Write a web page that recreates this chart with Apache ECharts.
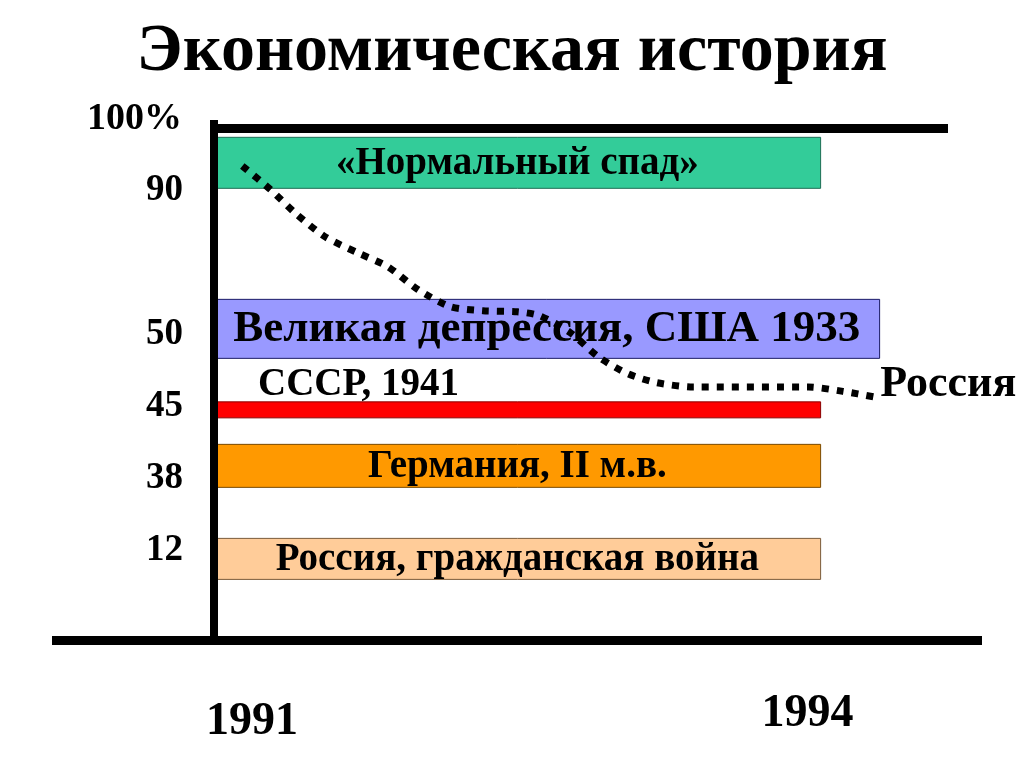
<!DOCTYPE html>
<html>
<head>
<meta charset="utf-8">
<script src="https://cdn.jsdelivr.net/npm/echarts@6/dist/echarts.min.js"></script>
<style>
  html, body { margin: 0; padding: 0; background: #ffffff; }
  #chart { width: 1024px; height: 768px; }
</style>
</head>
<body>
<div id="chart"></div>
<script>
// Output level after an economic collapse, % of the pre-crisis level.
const yearTicks = [1991, 1994];
const levelTicks = [12, 38, 45, 50, 90];
const levelTickLabels = ['12', '38', '45', '50', '90'];
const topLevelLabel = '100%';

const episodeNames = [
  '«Нормальный спад»',
  'Великая депрессия, США 1933',
  'СССР, 1941',
  'Германия, II м.в.',
  'Россия, гражданская война'
];
const episodeLevels = [90, 50, 45, 38, 12];

const russiaName = 'Россия';
const russiaYears = [1991.14, 1991.28, 1991.41, 1991.55, 1991.71, 1991.86, 1992.01, 1992.17,
  1992.33, 1992.50, 1992.61, 1992.76, 1992.90, 1993.05, 1993.19, 1993.37, 1993.94, 1994.11, 1994.27];
const russiaLevels = [92.9, 89.2, 82.3, 76.1, 71.7, 67.8, 61.4, 56.7,
  55.6, 55.3, 54.2, 49.9, 48.2, 47.0, 46.4, 46.1, 46.1, 45.8, 45.4];

// The vertical scale is schematic: every labelled level gets its own row,
// with a double gap between 50 and 90.
const ROW_KNOTS = [[0, 0], [12, 1], [38, 2], [45, 3], [50, 4], [90, 6], [100, 7]];
function toRow(v) {
  for (let k = 1; k < ROW_KNOTS.length; k++) {
    const a = ROW_KNOTS[k - 1], b = ROW_KNOTS[k];
    if (v <= b[0] || k === ROW_KNOTS.length - 1) {
      return a[1] + (v - a[0]) * (b[1] - a[1]) / (b[0] - a[0]);
    }
  }
}

const SERIF = '"Liberation Serif", "Times New Roman", serif';

// Box look for each episode: fill, outline, box height, shift from its level, extra width.
const episodeStyles = [
  { fill: '#33CC99', stroke: '#1d6e55', h: 51, dy: -24, extra: 0, size: 39, label: 'inside' },
  { fill: '#9999FF', stroke: '#1a1a66', h: 59, dy: -2, extra: 59, size: 45, label: 'inside' },
  { fill: '#FF0000', stroke: '#8a0000', h: 16, dy: 7, extra: 0, size: 39, label: 'above', dx: 44 },
  { fill: '#FF9900', stroke: '#7a4a00', h: 43, dy: -9, extra: 0, size: 39, label: 'inside' },
  { fill: '#FFCC99', stroke: '#7a5a3a', h: 41, dy: 12, extra: 0, size: 39, label: 'inside' }
];

const chart = echarts.init(document.getElementById('chart'));

function renderEpisode(params, api) {
  const i = api.value(3);
  const st = episodeStyles[i];
  const p0 = api.coord([api.value(0), api.value(2)]);
  const p1 = api.coord([api.value(1), api.value(2)]);
  const x0 = p0[0];
  const x1 = p1[0] + st.extra;
  const cy = p0[1] + st.dy;
  const top = cy - st.h / 2;
  const font = 'bold ' + st.size + 'px ' + SERIF;
  const text = st.label === 'inside'
    ? { type: 'text', z2: 5, style: { text: episodeNames[i], x: (x0 + x1) / 2, y: cy + 1,
        align: 'center', verticalAlign: 'middle', font: font, fill: '#000' } }
    : { type: 'text', z2: 5, style: { text: episodeNames[i], x: x0 + st.dx, y: top + 3,
        align: 'left', verticalAlign: 'bottom', font: font, fill: '#000' } };
  return {
    type: 'group',
    children: [
      { type: 'rect', shape: { x: x0, y: top, width: x1 - x0, height: st.h },
        style: { fill: st.fill, stroke: st.stroke, lineWidth: 1 } },
      text
    ]
  };
}

const tickFont = { fontFamily: SERIF, fontWeight: 'bold', fontSize: 37, color: '#000' };

const option = {
  backgroundColor: '#ffffff',
  animation: false,
  title: {
    text: 'Экономическая история',
    left: 'center',
    top: 13,
    textStyle: { fontFamily: SERIF, fontWeight: 'bold', fontSize: 68, color: '#000' }
  },
  grid: [
    { left: 214, right: 76, top: 120, bottom: 127.5 },
    { left: 52, right: 42, top: 128.5, bottom: 127.5 }
  ],
  xAxis: [
    {
      gridIndex: 0, type: 'value', position: 'top', offset: -8.5, min: 1991, max: 1994.63, z: 10,
      axisLine: { show: true, onZero: false, lineStyle: { color: '#000', width: 9, cap: 'butt' } },
      axisTick: { show: false }, axisLabel: { show: false }, splitLine: { show: false }
    },
    {
      gridIndex: 1, type: 'value', position: 'bottom', min: 1989.92, max: 1994.942, z: 10,
      axisLine: { show: true, onZero: false, lineStyle: { color: '#000', width: 9, cap: 'butt' } },
      axisTick: { show: false }, splitLine: { show: false },
      axisLabel: {
        customValues: yearTicks,
        margin: 51,
        formatter: v => (v === yearTicks[0] ? '{lo|' + v + '}' : '{hi|' + v + '}'),
        rich: {
          lo: { fontFamily: SERIF, fontWeight: 'bold', fontSize: 46, color: '#000', padding: [8, 0, 0, 0] },
          hi: { fontFamily: SERIF, fontWeight: 'bold', fontSize: 46, color: '#000', padding: [0, 0, 8, 0] }
        }
      }
    }
  ],
  yAxis: [
    {
      gridIndex: 0, type: 'value', min: -0.3, max: 6.928, z: 10,
      name: topLevelLabel, nameLocation: 'end', nameGap: 1,
      nameTextStyle: { fontFamily: SERIF, fontWeight: 'bold', fontSize: 38, color: '#000',
        align: 'right', verticalAlign: 'middle', padding: [0, 32, 0, 0] },
      axisLine: { show: true, onZero: false, lineStyle: { color: '#000', width: 8, cap: 'butt' } },
      axisTick: { show: false }, splitLine: { show: false },
      axisLabel: {
        customValues: levelTicks.map(toRow),
        margin: 31,
        formatter: v => {
          const k = levelTicks.findIndex(t => Math.abs(toRow(t) - v) < 1e-6);
          return k >= 0 ? '{t|' + levelTickLabels[k] + '}' : '';
        },
        rich: { t: Object.assign({ padding: [8, 0, 0, 0] }, tickFont) }
      }
    },
    { gridIndex: 1, type: 'value', min: 0, max: 1, show: false }
  ],
  series: [
    {
      type: 'custom',
      name: 'episodes',
      xAxisIndex: 0, yAxisIndex: 0,
      z: 2,
      renderItem: renderEpisode,
      data: episodeLevels.map((lvl, i) => [yearTicks[0], yearTicks[1], toRow(lvl), i])
    },
    {
      type: 'line',
      name: russiaName,
      xAxisIndex: 0, yAxisIndex: 0,
      z: 4,
      showSymbol: false,
      smooth: 0.25,
      lineStyle: { color: '#000', width: 7, type: [7, 8], cap: 'butt' },
      data: russiaYears.map((y, i) => [y, toRow(russiaLevels[i])]),
      endLabel: {
        show: true,
        formatter: russiaName,
        distance: 5,
        offset: [0, -12],
        fontFamily: SERIF, fontWeight: 'bold', fontSize: 44, color: '#000'
      }
    }
  ]
};

chart.setOption(option);
</script>
</body>
</html>
